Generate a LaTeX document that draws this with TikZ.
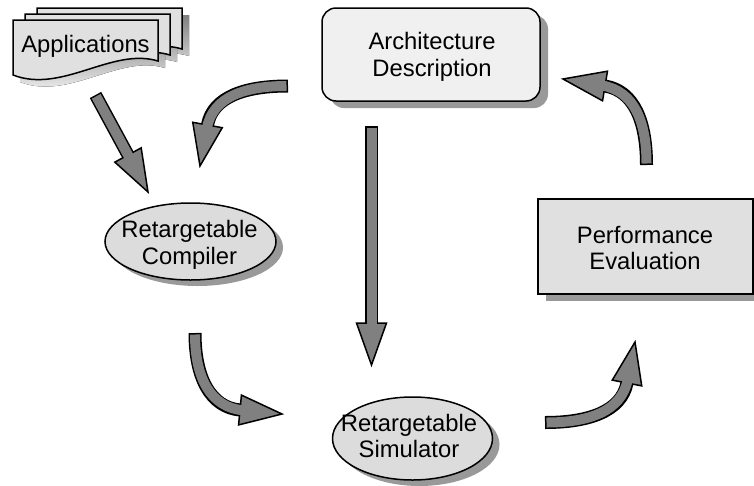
\documentclass[tikz,border=0pt]{standalone}
\usepackage{fontspec}
\setmainfont{Liberation Sans}
\usetikzlibrary{shapes.geometric,shadows,calc}

\definecolor{boxfill}{HTML}{E0E0E0}
\definecolor{archfill}{HTML}{F0F0F0}
\definecolor{ellfill}{HTML}{DCDCDC}
\definecolor{shade}{HTML}{999999}
\definecolor{arrowgray}{HTML}{808080}

\tikzset{
  outline/.style={draw=black, line width=1.5pt},
  castshadow/.style 2 args={drop shadow={shadow xshift=#1pt, shadow yshift=-#2pt, opacity=1, fill=shade}},
  lbl/.style={font=\fontsize{23.8}{26.5}\selectfont, align=center, inner sep=0pt},
  archbox/.style={rectangle, rounded corners=14pt, outline, fill=archfill,
    minimum width=218pt, minimum height=93pt, castshadow={8}{7}},
  perfbox/.style={rectangle, outline, fill=boxfill,
    minimum width=215pt, minimum height=95pt, castshadow={8}{7}},
  toolshape/.style={ellipse, outline, fill=ellfill, inner sep=0pt, castshadow={7}{6}},
  arrowhead/.style={fill=arrowgray, draw=black, line width=1.5pt, line join=miter},
  shaftedge/.style={draw=black, line width=13pt},
  shaftcore/.style={draw=arrowgray, line width=10pt, shorten <=1.5pt, shorten >=-3pt},
}

% one sheet of the document stack, bottom edge waved
\newcommand\docsheet{(13,75) -- (13,20) -- (158,20) -- (158,61) .. controls (112,47) and (62,94) .. cycle}

% block arrow along a curve: tail, first control, head base, tip
\newcommand\bentarrow[4]{%
  \path[arrowhead] ($(#3)!15pt!90:(#4)$) -- (#4) -- ($(#3)!15pt!-90:(#4)$) -- cycle;
  \path[shaftedge] (#1) .. controls (#2) and ($(#3)!-0.7!(#4)$) .. (#3);
  \path[shaftcore] (#1) .. controls (#2) and ($(#3)!-0.7!(#4)$) .. (#3);
}
% straight block arrow: tail, head base, tip
\newcommand\straightarrow[3]{%
  \path[arrowhead] ($(#2)!15pt!90:(#3)$) -- (#3) -- ($(#2)!15pt!-90:(#3)$) -- cycle;
  \path[shaftedge] (#1) -- (#2);
  \path[shaftcore] (#1) -- (#2);
}

\begin{document}
\begin{tikzpicture}[x=1pt, y=-1pt]
\useasboundingbox (0,0) rectangle (754,485);

% --- stack of application documents ---
\foreach \dx/\dy in {31/1, 19/7, 7/13}
  \fill[shade, shift={(\dx,\dy-6)}] \docsheet;
\foreach \dx/\dy in {24/-12, 12/-6, 0/0}
  \path[outline, fill=boxfill, shift={(\dx,\dy)}] \docsheet;
\node[lbl] (apps) at (85.5,46) {Applications};

% --- main blocks ---
\node[archbox] (arch) at (431,54.5) {};
\node[lbl] at (432,57) {Architecture\\Description};

\node[perfbox] (perf) at (645.5,246.5) {};
\node[lbl] at (645,248) {Performance\\Evaluation};

\node[toolshape, minimum width=171pt, minimum height=77pt] (comp) at (190.5,241.5) {};
\node[lbl] at (189.5,245) {Retargetable\\Compiler};

\node[toolshape, minimum width=160pt, minimum height=83pt] (sim) at (412.5,438.5) {};
\node[lbl] at (409,436) {Retargetable\\Simulator};

% --- arrow end points ---
\coordinate (a1t) at (95.5,95);   \coordinate (a1b) at (128,155);   \coordinate (a1h) at (148,192);
\coordinate (a2t) at (288,86);    \coordinate (a2c) at (246,86);    \coordinate (a2b) at (207.5,125); \coordinate (a2h) at (200,166);
\coordinate (a3t) at (646.5,165); \coordinate (a3c) at (646.5,122); \coordinate (a3b) at (605,86);    \coordinate (a3h) at (563,79);
\coordinate (a4t) at (195,333);   \coordinate (a4c) at (195,378);   \coordinate (a4b) at (240,410);   \coordinate (a4h) at (282,414);
\coordinate (a5t) at (545,422.5); \coordinate (a5c) at (588,422.5); \coordinate (a5b) at (627,383);   \coordinate (a5h) at (635,342);
\coordinate (a6t) at (371.5,126); \coordinate (a6b) at (371.5,323); \coordinate (a6h) at (371.5,365);

% --- flow arrows ---
\straightarrow{a1t}{a1b}{a1h}
\bentarrow{a2t}{a2c}{a2b}{a2h}
\bentarrow{a3t}{a3c}{a3b}{a3h}
\bentarrow{a4t}{a4c}{a4b}{a4h}
\bentarrow{a5t}{a5c}{a5b}{a5h}
\straightarrow{a6t}{a6b}{a6h}
\end{tikzpicture}
\end{document}
